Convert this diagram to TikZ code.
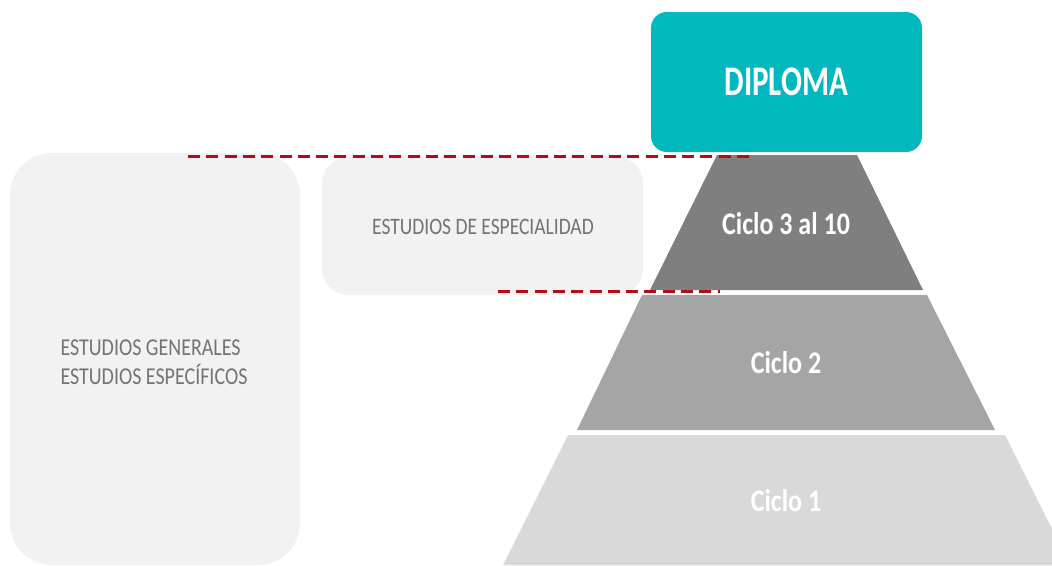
\documentclass[tikz,border=0pt]{standalone}
\usepackage{fontspec}
\setmainfont{Carlito}
\usepackage{tikz}
\usetikzlibrary{positioning}

\definecolor{diplomateal}{RGB}{0,184,190}
\definecolor{tierdark}{RGB}{127,127,127}
\definecolor{tiermid}{RGB}{165,165,165}
\definecolor{tierlight}{RGB}{217,217,217}
\definecolor{boxfill}{RGB}{242,242,242}
\definecolor{boxtext}{RGB}{115,115,115}
\definecolor{cutred}{RGB}{175,15,20}

% the text of the source is set tall and narrow
\newcommand{\talltext}[2][1.21]{\scalebox{1}[#1]{#2}}

\tikzset{study box/.style={rectangle,fill=boxfill,draw=none,inner sep=0pt},
	study text/.style={text=boxtext,align=left,inner sep=0pt},
	tier label/.style={text=white,font=\fontsize{26}{30}\selectfont\bfseries},
}

\begin{document}
\begin{tikzpicture}[x=1pt,y=-1pt,
	cut line/.style={cutred,line width=3pt,dash pattern=on 12pt off 6.3pt}]
	
	\useasboundingbox (0,0) rectangle (1052,565);
	
	% pyramid
	\fill[tierdark] (717,155) -- (857,155) -- (923,290) -- (650,290) -- cycle;
	\fill[tiermid] (642,295) -- (927,295) -- (995,430) -- (577,430) -- cycle;
	\fill[tierlight] (568,435) -- (1005,435) -- (1070,565) -- (503,565) -- cycle;
	
	\node[tier label] (c3) at (786,224) {\talltext{Ciclo 3 al 10}};
	\node[tier label] (c2) at (786,363) {\talltext{Ciclo 2}};
	\node[tier label] (c1) at (786,501) {\talltext{Ciclo 1}};
	
	\node[rectangle,fill=diplomateal,rounded corners=16pt,minimum width=271pt,minimum height=140pt,
		text=white,font=\fontsize{31}{36}\selectfont\bfseries] (diploma) at (786.5,82) {\talltext[1.36]{DIPLOMA}};
	
	\node[study box,rounded corners=42pt,minimum width=290pt,minimum height=412pt] (generales) at (155,359) {};
	\node[study text,font=\fontsize{20}{24}\selectfont] (generales text) at (154,364)
		{\talltext{\begin{tabular}{@{}l@{}}ESTUDIOS GENERALES\\ESTUDIOS ESPECÍFICOS\end{tabular}}};
	\node[study box,rounded corners=26pt,minimum width=321pt,minimum height=138pt] (especialidad) at (482.5,226) {};
	\node[study text,font=\fontsize{19.5}{20}\selectfont] (especialidad text) at (483,227)
		{\talltext{ESTUDIOS DE ESPECIALIDAD}};
	
	\coordinate (top a) at (188,156);
	\coordinate (top b) at (752,156);
	\coordinate (low a) at (498,291);
	\coordinate (low b) at (720,291);
	\draw[cut line] (top a) -- (top b);
	\draw[cut line] (low a) -- (low b);
\end{tikzpicture}
\end{document}
